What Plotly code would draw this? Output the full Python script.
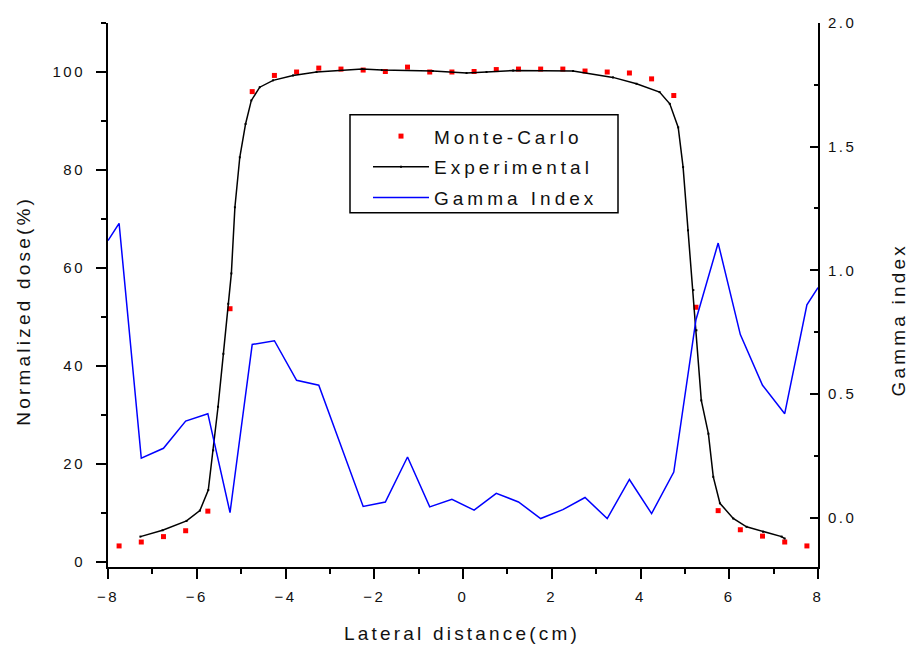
import plotly.graph_objects as go

# Monte-Carlo calculated dose profile (%), sampled every 0.5 cm
mc_x = [-7.75, -7.25, -6.75, -6.25, -5.75, -5.25, -4.75, -4.25, -3.75, -3.25,
        -2.75, -2.25, -1.75, -1.25, -0.75, -0.25, 0.25, 0.75, 1.25, 1.75,
        2.25, 2.75, 3.25, 3.75, 4.25, 4.75, 5.25, 5.75, 6.25, 6.75, 7.25, 7.75]
mc_y = [3.3, 4.1, 5.2, 6.4, 10.4, 51.7, 96.0, 99.3, 100.0, 100.8,
        100.6, 100.4, 100.1, 101.0, 100.0, 100.0, 100.1, 100.5, 100.6, 100.6,
        100.6, 100.2, 100.0, 99.8, 98.6, 95.2, 52.0, 10.5, 6.6, 5.3, 4.1, 3.3]

# Measured (experimental) dose profile (%)
exp_x = [-7.27, -6.77, -6.23, -5.93, -5.74, -5.63, -5.52, -5.40, -5.29, -5.22,
         -5.14, -5.03, -4.90, -4.77, -4.58, -4.28, -3.83, -3.30, -2.27, -1.83,
         -0.68, 0.08, 0.53, 1.13, 2.48, 3.38, 3.91, 4.43, 4.66, 4.85,
         4.96, 5.07, 5.19, 5.26, 5.37, 5.53, 5.64, 5.79, 6.09, 6.39,
         6.76, 7.18, 7.25]
exp_y = [5.2, 6.5, 8.4, 10.5, 14.7, 22.8, 31.7, 42.5, 52.7, 58.9,
         72.4, 82.6, 89.4, 94.2, 96.9, 98.3, 99.3, 100.0, 100.6, 100.4,
         100.2, 99.8, 100.0, 100.3, 100.2, 98.9, 97.6, 95.9, 93.5, 88.7,
         80.6, 67.7, 55.5, 47.3, 33.0, 26.2, 17.4, 12.0, 8.9, 7.2,
         6.2, 5.2, 4.8]

# Gamma index between the two profiles (right axis)
gamma_x = [-8.0, -7.75, -7.25, -6.75, -6.25, -5.75, -5.25, -4.75, -4.25, -3.75,
           -3.25, -2.75, -2.25, -1.75, -1.25, -0.75, -0.25, 0.25, 0.75, 1.25,
           1.75, 2.25, 2.75, 3.25, 3.75, 4.25, 4.75, 5.25, 5.75, 6.25,
           6.75, 7.25, 7.75, 8.0]
gamma_y = [1.12, 1.19, 0.24, 0.28, 0.39, 0.42, 0.02, 0.70, 0.715, 0.555,
           0.535, 0.29, 0.045, 0.063, 0.245, 0.043, 0.074, 0.030, 0.098, 0.063,
           -0.004, 0.032, 0.081, -0.004, 0.154, 0.016, 0.184, 0.80, 1.11, 0.74,
           0.535, 0.42, 0.86, 0.93]

x_ticks = [-8, -6, -4, -2, 0, 2, 4, 6, 8]
dose_ticks = [0, 20, 40, 60, 80, 100]
gamma_ticks = [0.0, 0.5, 1.0, 1.5, 2.0]

FONT = "Liberation Sans, Arial, sans-serif"
INK = "#111111"

fig = go.Figure()
fig.add_trace(go.Scatter(
    x=mc_x, y=mc_y, mode="markers", name="Monte-Carlo", legendgroup="mc",
    marker=dict(symbol="square", size=5, color="#ff0000", line=dict(width=0)),
))
fig.add_trace(go.Scatter(
    x=exp_x, y=exp_y, mode="lines+markers", name="Experimental", legendgroup="exp",
    line=dict(color="black", width=1.5),
    marker=dict(symbol="square", size=2, color="black", line=dict(width=0)),
))
fig.add_trace(go.Scatter(
    x=gamma_x, y=gamma_y, mode="lines", name="Gamma Index", legendgroup="gam",
    yaxis="y2", line=dict(color="#0000ff", width=1.5),
))

axis_common = dict(showgrid=False, zeroline=False, showline=True,
                   linecolor="black", linewidth=2, tickcolor="black",
                   tickwidth=2, tickfont=dict(family=FONT, size=15, color=INK))

fig.update_layout(
    width=913, height=645,
    margin=dict(l=108, r=95, t=23, b=78),
    paper_bgcolor="white", plot_bgcolor="white",
    font=dict(family=FONT, size=15, color=INK),
    hovermode=False,
    legend=dict(
        x=(368 - 108) / 710, y=(567 - 117.5) / 543.7,
        xanchor="left", yanchor="top",
        bgcolor="rgba(0,0,0,0)", borderwidth=0,
        font=dict(family=FONT, size=19, color=INK),
        itemwidth=56, traceorder="grouped", tracegroupgap=3,
    ),
    xaxis=dict(
        **axis_common, range=[-8, 8], tickvals=x_ticks,
        ticks="outside", ticklen=10, ticklabelstandoff=5,
        minor=dict(dtick=1, tick0=0, ticks="outside", ticklen=5,
                   tickwidth=2, tickcolor="black"),
    ),
    xaxis2=dict(
        showgrid=False, zeroline=False, showline=True, linecolor="black",
        linewidth=2, overlaying="x", side="top", range=[-8, 8],
        tickvals=x_ticks, ticks="inside", ticklen=7, tickwidth=2,
        tickcolor="black", showticklabels=False,
        minor=dict(dtick=1, tick0=0, ticks="inside", ticklen=3,
                   tickwidth=2, tickcolor="black"),
    ),
    yaxis=dict(
        **axis_common, range=[-1, 110], tickvals=dose_ticks,
        ticks="outside", ticklen=10, ticklabelstandoff=8,
        minor=dict(dtick=10, tick0=0, ticks="outside", ticklen=5,
                   tickwidth=2, tickcolor="black"),
    ),
    yaxis2=dict(
        **axis_common, range=[-0.2, 2.0], tickvals=gamma_ticks,
        tickformat=".1f", overlaying="y", side="right",
        ticks="inside", ticklen=8, ticklabelstandoff=5,
        minor=dict(dtick=0.25, tick0=0, ticks="inside", ticklen=4,
                   tickwidth=2, tickcolor="black"),
    ),
    annotations=[
        dict(text="Lateral distance(cm)", xref="paper", yref="paper",
             x=(461.7 - 108) / 710, y=(567 - 633) / 543.7,
             xanchor="center", yanchor="middle", showarrow=False,
             font=dict(family=FONT, size=19, color=INK)),
        dict(text="Normalized dose(%)", xref="paper", yref="paper",
             x=(24 - 108) / 710, y=(567 - 311) / 543.7, textangle=-90,
             xanchor="center", yanchor="middle", showarrow=False,
             font=dict(family=FONT, size=19, color=INK)),
        dict(text="Gamma index", xref="paper", yref="paper",
             x=(899 - 108) / 710, y=(567 - 320) / 543.7, textangle=-90,
             xanchor="center", yanchor="middle", showarrow=False,
             font=dict(family=FONT, size=19, color=INK)),
    ],
    shapes=[
        # frame around the legend entries
        dict(type="rect", xref="paper", yref="paper",
             x0=(350 - 108) / 710, x1=(618 - 108) / 710,
             y0=(567 - 213) / 543.7, y1=(567 - 115) / 543.7,
             line=dict(color="black", width=1.5), fillcolor="rgba(0,0,0,0)",
             layer="above"),
    ],
)

# Wide letter spacing for the labels, applied once the plot is drawn
post = (
    "var st=document.createElement('style');"
    "st.textContent='.legendtext{letter-spacing:4px}"
    ".legend .scrollbox{clip-path:none!important}"
    ".xtick text,.ytick text,.y2tick text{letter-spacing:2.5px}"
    ".annotation-text{letter-spacing:3.2px}';"
    "document.head.appendChild(st);"
)

fig.write_html("out.html", post_script=post, config={"displayModeBar": False})
